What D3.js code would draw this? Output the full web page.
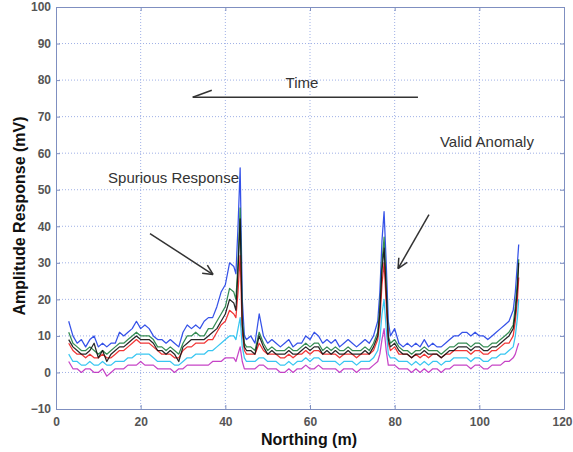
<!DOCTYPE html>
<html><head><meta charset="utf-8">
<script src="https://cdn.jsdelivr.net/npm/d3@7"></script>
<style>body{margin:0;background:#fff}svg{display:block;font-family:"Liberation Sans",Arial,sans-serif}</style>
</head><body>
<svg id="c" width="573" height="452"></svg>
<script>
const xTicks = [0, 20, 40, 60, 80, 100, 120];
const yTicks = [-10, 0, 10, 20, 30, 40, 50, 60, 70, 80, 90, 100];
const xs = [3,4,5,6,7,8,9,10,11,12, 13,14,15,16,17,18,19,20,21,22, 23,24,25,26,27,28,29,30,31,32, 33,34,35,36,37,38,39,40,41,42,
  42.5,43,43.5,44,44.5,
  45,46,47,48,49,50,51,52,53,54, 55,56,57,58,59,60,61,62,63,64, 65,66,67,68,69,70,71,72,73,74,75,76,
  76.5,77,77.5,78,78.5,
  79,80,81,82,83,84,85,86,87,88, 89,90,91,92,93,94,95,96,97,98, 99,100,101,102,103,104,105,106,107,108,
  108.5,109,109.3];
const blue = [14,10,8,9,7,9,10,7,8,7, 8,8,11,10,11,12,14,12,13,12, 10,9,9,8,9,8,7,11,13,12, 13,12,14,15,15,18,22,24,30,29,
  27,40,56,20,10,
  9,10,8,16,10,8,9,8,7,8, 9,7,8,8,10,9,11,10,8,9, 8,9,7,8,9,8,7,8,9,8,10,14,
  22,36,44,30,14,
  10,12,8,7,8,7,8,7,9,7, 8,7,7,8,9,10,10,11,11,10, 11,10,10,9,10,11,12,13,14,17,
  22,30,35];
const green = [11,8,7,6,6,7,6,5,6,5, 6,7,8,8,9,10,11,10,10,10, 9,7,7,6,7,6,5,8,10,10, 11,10,10,12,12,14,16,18,23,22,
  20,30,45,15,8,
  7,7,6,11,8,6,7,6,6,6, 7,6,6,7,8,7,8,8,6,7, 6,7,6,6,7,6,6,6,7,6,8,11,
  18,30,37,24,10,
  8,9,7,6,6,5,6,6,7,6, 6,6,5,6,7,7,8,8,8,7, 8,8,7,7,8,8,9,10,11,13,
  18,25,31];
const red = [8,6,5,5,4,5,4,4,5,4, 4,5,6,6,7,8,9,8,8,8, 7,6,5,5,5,4,4,6,7,7, 8,8,8,9,9,11,13,14,17,16,
  15,22,32,11,6,
  5,5,5,8,6,5,5,5,4,4, 5,4,5,5,6,5,6,6,5,5, 5,5,4,5,5,5,4,5,5,5,6,9,
  14,24,30,19,8,
  6,7,5,5,5,4,5,4,5,4, 5,5,4,5,5,6,6,6,6,5, 6,6,5,5,6,6,7,8,8,10,
  14,20,26];
const cyan = [5,3,3,2,2,3,2,2,3,2, 2,3,3,3,4,4,5,5,5,5, 4,3,3,3,3,2,2,3,4,4, 5,5,5,6,6,7,8,9,10,10,
  9,12,15,7,4,
  3,3,3,4,4,3,3,3,2,2, 3,2,3,3,4,3,4,4,3,3, 3,3,2,3,3,3,2,3,3,3,4,6,
  9,16,20,12,5,
  4,4,3,3,3,2,3,2,3,2, 3,3,2,3,3,4,4,4,4,3, 4,4,3,3,4,4,5,5,6,7,
  10,15,20];
const magenta = [3,1,1,0,1,1,0,0,1,-1, 0,1,1,1,2,2,2,3,2,2, 2,1,1,1,1,0,1,1,2,2, 2,2,2,2,3,3,3,4,4,4,
  3,5,7,3,1,
  1,1,1,2,2,1,1,1,0,0, 1,0,1,1,2,1,1,2,1,1, 1,1,0,1,1,1,0,1,1,1,2,3,
  5,9,12,6,2,
  2,2,1,1,1,0,1,0,1,0, 1,1,0,1,1,2,2,2,2,1, 2,2,1,1,2,2,2,3,3,4,
  5,7,8];
const black = [9,7,6,5,5,6,8,4,6,3, 5,6,7,7,8,9,10,9,9,9, 8,6,6,5,6,5,3,7,8,9, 9,9,9,10,11,12,14,16,20,19,
  17,28,42,13,7,
  6,6,5,10,7,5,6,5,5,5, 6,5,5,6,7,6,7,7,5,6, 5,6,5,5,6,5,5,5,6,5,7,10,
  16,28,34,22,9,
  7,8,6,5,5,4,5,5,6,5, 5,5,4,5,6,6,7,7,7,6, 7,7,6,6,7,7,8,9,10,12,
  16,23,30];
const seriesNames = ["blue", "green", "red", "cyan", "magenta", "black"];
const seriesValues = [blue, green, red, cyan, magenta, black];
const seriesColors = ["#1f3fe6", "#1f8040", "#f02020", "#22c0f0", "#c030c0", "#111111"];
const annotations = [
  {text: "Time", tx: 58.1, ty: 77.8, anchor: "middle"},
  {text: "Spurious Response", tx: 12.3, ty: 51.8, anchor: "start"},
  {text: "Valid Anomaly", tx: 90.7, ty: 61.7, anchor: "start"}
];

const svg = d3.select("#c");
const L = 56, R = 564, T = 7, B = 409;
const x = d3.scaleLinear().domain([0, 120]).range([L, R]);
const y = d3.scaleLinear().domain([-10, 100]).range([B, T]);
const gridColor = "#9fb0e6";

// grid
svg.append("g").selectAll("line").data(xTicks.slice(1, -1)).join("line")
  .attr("x1", d => x(d)).attr("x2", d => x(d)).attr("y1", T).attr("y2", B)
  .attr("stroke", gridColor).attr("stroke-width", 1).attr("stroke-dasharray", "1,2");
svg.append("g").selectAll("line").data(yTicks.slice(1, -1)).join("line")
  .attr("y1", d => y(d)).attr("y2", d => y(d)).attr("x1", L).attr("x2", R)
  .attr("stroke", gridColor).attr("stroke-width", 1).attr("stroke-dasharray", "1,2");

// lines
const line = d3.line().x((d, i) => x(xs[i])).y(d => y(d));
seriesValues.forEach((vals, k) => {
  svg.append("path").datum(vals).attr("d", line)
    .attr("fill", "none").attr("stroke", seriesColors[k]).attr("stroke-width", 1.25)
    .attr("stroke-linejoin", "round").attr("opacity", 0.9);
});

// axes
const axColor = "#7f8fc0";
const gx = svg.append("g").attr("transform", `translate(0,${B})`)
  .call(d3.axisBottom(x).tickValues(xTicks).tickSize(-4).tickPadding(8));
const gy = svg.append("g").attr("transform", `translate(${L},0)`)
  .call(d3.axisLeft(y).tickValues(yTicks).tickSize(-4).tickPadding(5));
svg.append("g").attr("transform", `translate(0,${T})`)
  .call(d3.axisTop(x).tickValues(xTicks).tickSize(-4).tickFormat(""));
svg.append("g").attr("transform", `translate(${R},0)`)
  .call(d3.axisRight(y).tickValues(yTicks).tickSize(-4).tickFormat(""));
svg.selectAll(".domain, .tick line").attr("stroke", axColor);
svg.selectAll(".tick text").attr("fill", "#555").attr("font-size", 12).attr("font-weight", "bold")
  .attr("font-family", "Liberation Sans, Arial, sans-serif");
gx.selectAll(".tick text").filter(d => d === 120).attr("text-anchor", "end").attr("dx", 8);

// axis labels
svg.append("text").attr("x", 309).attr("y", 445).attr("text-anchor", "middle")
  .attr("font-size", 16).attr("font-weight", "bold").attr("fill", "#111").text("Northing (m)");
svg.append("text").attr("transform", "translate(25,216) rotate(-90)").attr("text-anchor", "middle")
  .attr("font-size", 16).attr("font-weight", "bold").attr("fill", "#111").text("Amplitude Response (mV)");

// annotations
const ink = "#333";
annotations.forEach(a => {
  svg.append("text").attr("x", x(a.tx)).attr("y", y(a.ty)).attr("text-anchor", a.anchor)
    .attr("font-size", 15).attr("fill", ink).text(a.text);
});
// Time arrow (data coords)
svg.append("line").attr("x1", x(32.3)).attr("y1", y(75.3)).attr("x2", x(85.5)).attr("y2", y(75.3))
  .attr("stroke", ink).attr("stroke-width", 1.3);
svg.append("line").attr("x1", x(32.3)).attr("y1", y(75.3)).attr("x2", x(36.8)).attr("y2", y(77.2))
  .attr("stroke", ink).attr("stroke-width", 1.5);

function arrow(x1, y1, x2, y2) {
  const px1 = x(x1), py1 = y(y1), px2 = x(x2), py2 = y(y2);
  svg.append("line").attr("x1", px1).attr("y1", py1).attr("x2", px2).attr("y2", py2)
    .attr("stroke", ink).attr("stroke-width", 1.5);
  const ang = Math.atan2(py2 - py1, px2 - px1), h = 11, w = 0.45;
  [ang + Math.PI - w, ang + Math.PI + w].forEach(a2 => {
    svg.append("line").attr("x1", px2).attr("y1", py2)
      .attr("x2", px2 + h * Math.cos(a2)).attr("y2", py2 + h * Math.sin(a2))
      .attr("stroke", ink).attr("stroke-width", 1.5);
  });
}
arrow(22.2, 38.0, 37.1, 26.8);
arrow(88.1, 43.2, 80.8, 28.4);
</script>
</body></html>
